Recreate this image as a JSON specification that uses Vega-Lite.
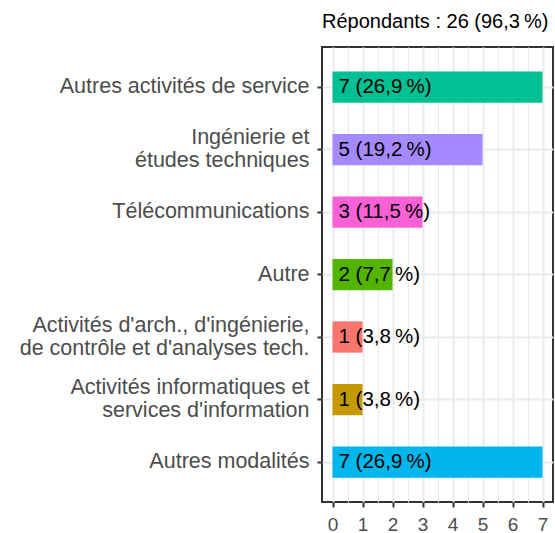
{
  "$schema": "https://vega.github.io/schema/vega-lite/v6.json",
  "width": 231,
  "height": 455,
  "autosize": {"type": "none"},
  "padding": {"left": 322, "top": 47, "right": 2, "bottom": 31},
  "background": "white",
  "title": {
    "text": "Répondants : 26 (96,3\u202f%)",
    "anchor": "start",
    "frame": "group",
    "font": "Liberation Sans",
    "fontSize": 20,
    "fontWeight": "normal",
    "color": "#000000",
    "offset": 15
  },
  "config": {
    "view": {"stroke": "#333333", "strokeWidth": 2},
    "font": "Liberation Sans"
  },
  "resolve": {"axis": {"x": "independent"}},
  "data": {
    "values": [
      {"cat": "Autres activités de service", "n": 7, "lab": "7 (26,9\u202f%)"},
      {"cat": "Ingénierie et|études techniques", "n": 5, "lab": "5 (19,2\u202f%)"},
      {"cat": "Télécommunications", "n": 3, "lab": "3 (11,5\u202f%)"},
      {"cat": "Autre", "n": 2, "lab": "2 (7,7\u202f%)"},
      {"cat": "Activités d'arch., d'ingénierie,|de contrôle et d'analyses tech.", "n": 1, "lab": "1 (3,8\u202f%)"},
      {"cat": "Activités informatiques et|services d'information", "n": 1, "lab": "1 (3,8\u202f%)"},
      {"cat": "Autres modalités", "n": 7, "lab": "7 (26,9\u202f%)"}
    ]
  },
  "encoding": {
    "y": {
      "field": "cat",
      "type": "nominal",
      "sort": null,
      "scale": {"paddingInner": 0.5, "paddingOuter": 0.39},
      "axis": {
        "title": null,
        "domain": false,
        "grid": true,
        "gridColor": "#EBEBEB",
        "gridWidth": 2,
        "ticks": true,
        "tickColor": "#333333",
        "tickWidth": 2,
        "tickSize": 5,
        "labelPadding": 8,
        "labelColor": "#4D4D4D",
        "labelFontSize": 21.5,
        "labelLineHeight": 23,
        "labelFont": "Liberation Sans",
        "labelLimit": 400,
        "labelOffset": {"condition": {"test": "indexof(datum.value, '|') >= 0", "value": -11.5}, "value": 0},
        "labelExpr": "split(datum.value, '|')"
      }
    }
  },
  "layer": [
    {
      "mark": {"type": "bar", "orient": "horizontal"},
      "encoding": {
        "x": {
          "field": "n",
          "type": "quantitative",
          "scale": {"domain": [-0.35, 7.35], "nice": false, "zero": false},
          "axis": {
            "title": null,
            "domain": false,
            "values": [0, 0.5, 1, 1.5, 2, 2.5, 3, 3.5, 4, 4.5, 5, 5.5, 6, 6.5, 7],
            "grid": true,
            "gridColor": "#EBEBEB",
            "gridWidth": {"condition": {"test": "datum.value % 1 === 0", "value": 2}, "value": 1.2},
            "tickColor": "#333333",
            "tickWidth": 2,
            "tickSize": 5,
            "tickOpacity": {"condition": {"test": "datum.value % 1 === 0", "value": 1}, "value": 0},
            "labelExpr": "datum.value % 1 === 0 ? format(datum.value, 'd') : ''",
            "labelOverlap": false,
            "labelColor": "#4D4D4D",
            "labelFontSize": 19,
            "labelFont": "Liberation Sans",
            "labelPadding": 8,
            "labelFlush": false
          }
        },
        "color": {
          "field": "cat",
          "type": "nominal",
          "legend": null,
          "scale": {
            "domain": [
              "Autres activités de service",
              "Ingénierie et|études techniques",
              "Télécommunications",
              "Autre",
              "Activités d'arch., d'ingénierie,|de contrôle et d'analyses tech.",
              "Activités informatiques et|services d'information",
              "Autres modalités"
            ],
            "range": ["#00C094", "#A58AFF", "#FB61D7", "#53B400", "#F8766D", "#C49A00", "#00B6EB"]
          }
        }
      }
    },
    {
      "mark": {"type": "text", "align": "left", "baseline": "middle", "dx": 6, "fontSize": 20.5, "font": "Liberation Sans", "color": "#000000"},
      "encoding": {
        "x": {"datum": 0, "type": "quantitative", "axis": null},
        "text": {"field": "lab"}
      }
    }
  ]
}
